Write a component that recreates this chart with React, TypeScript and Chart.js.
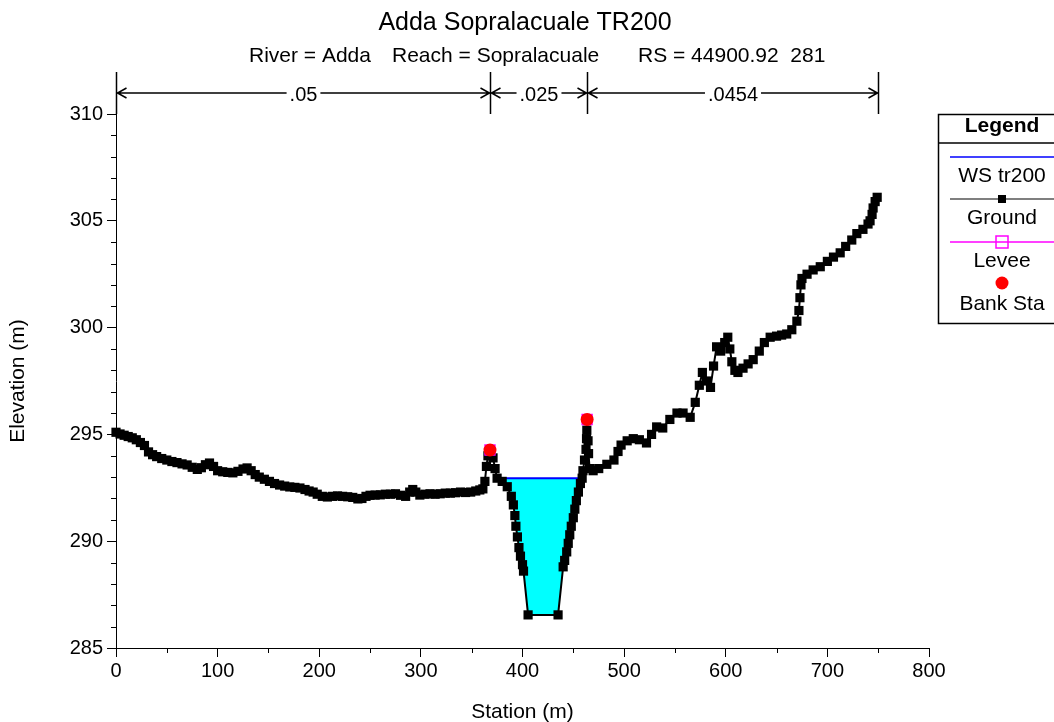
import React, { useEffect, useRef } from 'react';
import { Chart, registerables } from 'chart.js';

Chart.register(...registerables);

const chartTitle = 'Adda Sopralacuale TR200';
const subtitleParts = ['River = Adda', 'Reach = Sopralacuale', 'RS = 44900.92  281'];

const leftStation = [0, 4, 8, 12, 16, 20, 24, 28, 32, 36, 40, 45, 50, 55, 60, 65, 70, 75, 80, 84, 88, 92, 96, 100, 105, 110, 115, 120, 125, 129, 133, 137, 141, 146, 151, 156, 161, 166, 171, 176, 181, 186, 190, 194, 198, 203, 208, 213, 218, 223, 228, 233, 238, 242, 246, 250, 255, 260, 265, 270, 275, 280, 285, 289, 292, 295, 299, 304, 309, 314, 319, 324, 329, 334, 339, 344, 349, 354, 358, 361];
const leftElevation = [295.1, 295.02, 294.96, 294.9, 294.84, 294.75, 294.62, 294.48, 294.18, 294.05, 293.96, 293.87, 293.8, 293.73, 293.68, 293.62, 293.57, 293.46, 293.36, 293.44, 293.58, 293.66, 293.5, 293.3, 293.25, 293.22, 293.2, 293.27, 293.38, 293.43, 293.3, 293.12, 293.0, 292.9, 292.8, 292.7, 292.63, 292.58, 292.54, 292.52, 292.49, 292.42, 292.35, 292.3, 292.2, 292.1, 292.07, 292.1, 292.12, 292.1, 292.08, 292.05, 291.98, 292.0, 292.1, 292.15, 292.16, 292.17, 292.2, 292.2, 292.22, 292.15, 292.1, 292.3, 292.42, 292.3, 292.16, 292.2, 292.22, 292.2, 292.22, 292.25, 292.25, 292.27, 292.3, 292.28, 292.3, 292.35, 292.4, 292.45];

const channelStation = [363, 364.5, 366, 368, 371, 373, 375, 380, 385, 389, 391, 392.5, 393.5, 395, 396.5, 398, 400, 401, 405.5, 435, 440, 441.5, 443.5, 445, 446.5, 448, 450, 451.5, 453, 455, 457, 458.7, 459.5, 461, 462.5, 463, 463.3, 463.6, 464.5, 465, 466];
const channelElevation = [292.8, 293.5, 294.0, 294.27, 293.9, 293.4, 292.95, 292.8, 292.55, 292.1, 291.7, 291.2, 290.7, 290.2, 289.7, 289.3, 288.9, 288.6, 286.55, 286.55, 288.8, 289.1, 289.5, 289.9, 290.3, 290.7, 291.1, 291.5, 291.9, 292.3, 292.7, 292.95, 293.3, 293.8, 294.3, 294.8, 295.2, 295.7, 294.7, 294.1, 293.4];

const rightStation = [469.5, 475, 483, 490, 494, 497, 503, 509, 515, 522, 527, 532, 538, 545, 552, 558, 565, 570, 574, 577, 581, 585, 588, 591, 595, 599, 602, 604, 606, 609, 612, 617, 622, 627, 633, 638, 643.7, 650, 655, 660, 665, 670, 672, 673, 674, 675, 680, 686, 693, 700, 706, 712.6, 718, 724, 729, 735, 740, 742, 744, 745, 747, 749];
const rightElevation = [293.3, 293.4, 293.6, 293.8, 294.2, 294.5, 294.7, 294.8, 294.75, 294.6, 295.0, 295.35, 295.3, 295.7, 296.0, 296.0, 295.8, 296.5, 297.3, 297.9, 297.5, 297.2, 298.2, 299.1, 298.9, 299.3, 299.55, 299.0, 298.4, 298.0, 297.9, 298.1, 298.3, 298.5, 298.9, 299.3, 299.55, 299.6, 299.65, 299.7, 299.9, 300.3, 300.8, 301.4, 302.0, 302.3, 302.5, 302.7, 302.85, 303.1, 303.3, 303.5, 303.8, 304.1, 304.4, 304.6, 304.85, 305.0, 305.3, 305.6, 305.9, 306.1];

const wsElevation = 292.95;
const wsStations = [375, 458.7];
const bankStations = [368, 463.6];
const bankElevations = [294.27, 295.7];
const nBreakStations = [0, 368, 463.6, 750];
const nValues = ['.05', '.025', '.0454'];
const xTicks = [0, 100, 200, 300, 400, 500, 600, 700, 800];
const yTicks = [285, 290, 295, 300, 305, 310];
const xMinorTicks = [50, 150, 250, 350, 450, 550, 650, 750];
const yMinorTicks = [286, 287, 288, 289, 291, 292, 293, 294, 296, 297, 298, 299, 301, 302, 303, 304, 306, 307, 308, 309];

const FONT = '"Liberation Sans", Arial, sans-serif';

const toPoints = (xs: number[], ys: number[]) => xs.map((x, i) => ({ x, y: ys[i] }));

const decorPlugin = {
  id: 'decor',
  afterDraw(chart: any) {
    const { ctx, chartArea } = chart;
    const xs = chart.scales.x;
    const ys = chart.scales.y;
    ctx.save();
    ctx.strokeStyle = '#000';
    ctx.fillStyle = '#000';
    ctx.lineWidth = 1;

    // minor ticks
    ctx.beginPath();
    for (const v of xMinorTicks) {
      const px = Math.round(xs.getPixelForValue(v)) + 0.5;
      ctx.moveTo(px, chartArea.bottom);
      ctx.lineTo(px, chartArea.bottom + 5);
    }
    for (const v of yMinorTicks) {
      const py = Math.round(ys.getPixelForValue(v)) + 0.5;
      ctx.moveTo(chartArea.left, py);
      ctx.lineTo(chartArea.left - 5, py);
    }
    ctx.stroke();

    // titles
    ctx.font = `25px ${FONT}`;
    ctx.textAlign = 'center';
    ctx.textBaseline = 'alphabetic';
    ctx.fillText(chartTitle, 525, 30);
    ctx.font = `21px ${FONT}`;
    ctx.textAlign = 'left';
    const subX = [249, 392, 638];
    subtitleParts.forEach((t, i) => ctx.fillText(t, subX[i], 62));

    // Manning's n bar
    const top = 72;
    const bot = chartArea.top;
    const mid = 93;
    const pxs = nBreakStations.map((s) => Math.round(xs.getPixelForValue(s)) + 0.5);
    ctx.lineWidth = 1.5;
    ctx.beginPath();
    for (const p of pxs) {
      ctx.moveTo(p, top);
      ctx.lineTo(p, bot);
    }
    for (let i = 0; i < pxs.length - 1; i++) {
      const a = pxs[i];
      const b = pxs[i + 1];
      ctx.moveTo(a, mid);
      ctx.lineTo(b, mid);
      ctx.moveTo(a + 10, mid - 5);
      ctx.lineTo(a + 1, mid);
      ctx.lineTo(a + 10, mid + 5);
      ctx.moveTo(b - 10, mid - 5);
      ctx.lineTo(b - 1, mid);
      ctx.lineTo(b - 10, mid + 5);
    }
    ctx.stroke();
    ctx.font = `20px ${FONT}`;
    ctx.textAlign = 'center';
    ctx.textBaseline = 'middle';
    for (let i = 0; i < nValues.length; i++) {
      const cx = (pxs[i] + pxs[i + 1]) / 2;
      const w = ctx.measureText(nValues[i]).width;
      ctx.fillStyle = '#fff';
      ctx.fillRect(cx - w / 2 - 3, mid - 10, w + 6, 20);
      ctx.fillStyle = '#000';
      ctx.fillText(nValues[i], cx, mid + 2);
    }

    // legend
    const lx = 938.5;
    const ly = 114.5;
    const lw = 140;
    const lh = 209;
    const cxl = 1002;
    ctx.fillStyle = '#fff';
    ctx.fillRect(lx, ly, lw, lh);
    ctx.strokeStyle = '#000';
    ctx.lineWidth = 1.5;
    ctx.strokeRect(lx, ly, lw, lh);
    ctx.beginPath();
    ctx.moveTo(lx, 143);
    ctx.lineTo(lx + lw, 143);
    ctx.stroke();
    ctx.fillStyle = '#000';
    ctx.font = `bold 21px ${FONT}`;
    ctx.fillText('Legend', cxl, 126);
    ctx.font = `21px ${FONT}`;
    // WS
    ctx.strokeStyle = '#0000ff';
    ctx.lineWidth = 1.5;
    ctx.beginPath();
    ctx.moveTo(950, 157);
    ctx.lineTo(1054, 157);
    ctx.stroke();
    ctx.fillText('WS tr200', cxl, 176);
    // Ground
    ctx.strokeStyle = '#555';
    ctx.beginPath();
    ctx.moveTo(950, 199);
    ctx.lineTo(1054, 199);
    ctx.stroke();
    ctx.fillStyle = '#000';
    ctx.fillRect(cxl - 4, 195, 8, 8);
    ctx.fillText('Ground', cxl, 218);
    // Levee
    ctx.strokeStyle = '#ff00ff';
    ctx.beginPath();
    ctx.moveTo(950, 242);
    ctx.lineTo(1054, 242);
    ctx.stroke();
    ctx.strokeRect(cxl - 6, 236, 12, 12);
    ctx.fillText('Levee', cxl, 261);
    // Bank Sta
    ctx.fillStyle = '#ff0000';
    ctx.beginPath();
    ctx.arc(cxl, 283, 6.5, 0, Math.PI * 2);
    ctx.fill();
    ctx.fillStyle = '#000';
    ctx.fillText('Bank Sta', cxl, 304);

    ctx.restore();
  },
};

export default function App() {
  const ref = useRef<HTMLCanvasElement | null>(null);

  useEffect(() => {
    if (!ref.current) return;
    const ground = [
      ...toPoints(leftStation, leftElevation),
      ...toPoints(channelStation, channelElevation),
      ...toPoints(rightStation, rightElevation),
    ];
    const fillPts = toPoints(channelStation, channelElevation).filter(
      (p) => p.x >= wsStations[0] && p.x <= wsStations[1]
    );
    const wsPts = wsStations.map((x) => ({ x, y: wsElevation }));
    const bankPts = toPoints(bankStations, bankElevations);

    const tickFont = { family: FONT, size: 20 };
    const chart = new Chart(ref.current, {
      type: 'line',
      data: {
        datasets: [
          {
            label: 'Bank Sta',
            data: bankPts,
            showLine: false,
            pointStyle: 'circle',
            pointRadius: 6.5,
            pointBackgroundColor: '#ff0000',
            pointBorderColor: '#ff0000',
            pointBorderWidth: 0,
            clip: false,
          } as any,
          {
            label: 'Levee',
            data: bankPts,
            showLine: false,
            pointStyle: 'rect',
            pointRadius: 7,
            pointBackgroundColor: 'rgba(0,0,0,0)',
            pointBorderColor: '#ff00ff',
            pointBorderWidth: 1.5,
            clip: false,
          } as any,
          {
            label: 'Ground',
            data: ground,
            borderColor: '#000',
            borderWidth: 2,
            pointStyle: 'rect',
            pointRadius: 6.5,
            pointBackgroundColor: '#000',
            pointBorderColor: '#000',
            pointBorderWidth: 0,
            tension: 0,
            fill: false,
            clip: false,
          } as any,
          {
            label: 'WS tr200',
            data: wsPts,
            borderColor: '#0000ff',
            borderWidth: 2,
            pointRadius: 0,
            fill: false,
          } as any,
          {
            label: 'WS fill',
            data: fillPts,
            borderWidth: 0,
            borderColor: 'rgba(0,0,0,0)',
            backgroundColor: '#00ffff',
            pointRadius: 0,
            fill: { value: wsElevation },
          } as any,
        ],
      },
      options: {
        animation: false,
        responsive: false,
        devicePixelRatio: 1,
        layout: { padding: { top: 114, right: 125, left: 0, bottom: 0 } },
        plugins: {
          legend: { display: false },
          title: { display: false },
          tooltip: { enabled: false },
        },
        scales: {
          x: {
            type: 'linear',
            min: 0,
            max: 800,
            afterBuildTicks: (s: any) => {
              s.ticks = xTicks.map((v) => ({ value: v }));
            },
            afterFit: (s: any) => {
              s.height = 74;
            },
            ticks: { font: tickFont, color: '#000', padding: 2, maxRotation: 0, autoSkip: false },
            grid: { drawOnChartArea: false, drawTicks: true, tickLength: 9, color: '#000' },
            border: { display: true, color: '#000', width: 1 },
            title: {
              display: true,
              text: 'Station (m)',
              color: '#000',
              font: { family: FONT, size: 21, lineHeight: 1 },
              padding: { top: 0, bottom: -1 },
            },
          },
          y: {
            type: 'linear',
            min: 285,
            max: 310,
            afterBuildTicks: (s: any) => {
              s.ticks = yTicks.map((v) => ({ value: v }));
            },
            afterFit: (s: any) => {
              s.width = 116;
            },
            ticks: { font: tickFont, color: '#000', padding: 4, autoSkip: false },
            grid: { drawOnChartArea: false, drawTicks: true, tickLength: 9, color: '#000' },
            border: { display: true, color: '#000', width: 1 },
            title: {
              display: true,
              text: 'Elevation (m)',
              color: '#000',
              font: { family: FONT, size: 21, lineHeight: 1 },
              padding: { top: 8, bottom: 0 },
            },
          },
        },
      } as any,
      plugins: [decorPlugin],
    });
    return () => chart.destroy();
  }, []);

  return (
    <div style={{ position: 'fixed', left: 0, top: 0, width: 1054, height: 722, background: '#fff' }}>
      <canvas ref={ref} width={1054} height={722} style={{ display: 'block' }} />
    </div>
  );
}
